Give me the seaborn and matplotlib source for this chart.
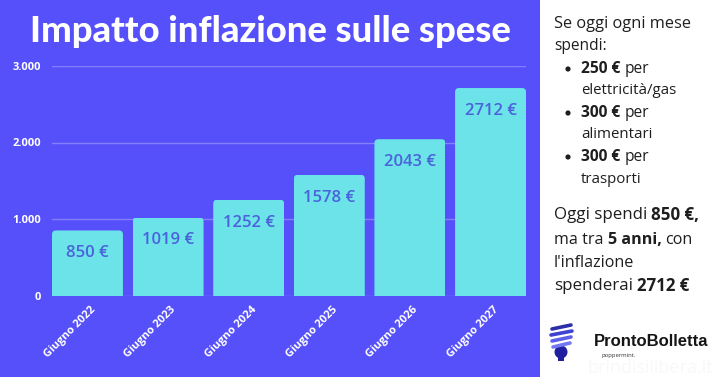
import matplotlib
matplotlib.use("Agg")
import matplotlib.pyplot as plt
from matplotlib.patches import FancyBboxPatch, Rectangle, Circle
from matplotlib.transforms import ScaledTranslation
import seaborn as sns
import pandas as pd

categories = ["Giugno 2022", "Giugno 2023", "Giugno 2024", "Giugno 2025", "Giugno 2026", "Giugno 2027"]
values = [850, 1019, 1252, 1578, 2043, 2712]
y_ticks = [0, 1000, 2000, 3000]
y_tick_labels = ["0", "1.000", "2.000", "3.000"]
title = "Impatto inflazione sulle spese"

BG = "#5650FB"
BAR = "#6BE3E8"
LABEL = "#4A63DB"
W, H = 720, 377

sns.set_theme(style="white")
plt.rcParams["font.family"] = ["Open Sans", "DejaVu Sans"]

fig = plt.figure(figsize=(7.2, 3.77), dpi=100, facecolor=BG)
ax = fig.add_axes([52 / W, 1 - 295.5 / H, (526 - 52) / W, (295.5 - 66) / H])
ax.set_facecolor("none")

df = pd.DataFrame({"mese": categories, "spesa": values})
sns.barplot(data=df, x="mese", y="spesa", color=BAR, saturation=1, width=0.88, ax=ax, zorder=3,
            linewidth=0, edgecolor="none")
ax.set_xlim(-0.44, 5.44)
ax.set_ylim(0, 3000)
ax.set_xlabel("")
ax.set_ylabel("")
sns.despine(ax=ax, left=True, bottom=True)
ax.set_yticks(y_ticks, y_tick_labels, color="white", fontsize=8, fontweight="bold")
ax.tick_params(axis="y", length=0, pad=8)
ax.tick_params(axis="x", length=0, pad=6)
ax.set_xticks(range(len(categories)), categories, rotation=45, ha="right", rotation_mode="anchor",
              color="white", fontsize=8, fontweight="bold")
shift = ScaledTranslation(2.5 / 100, 0, fig.dpi_scale_trans)
for lab in ax.get_xticklabels():
    lab.set_transform(lab.get_transform() + shift)
ax.grid(axis="y", color="#8480FC", lw=1, zorder=0)
ax.set_axisbelow(True)

fig.canvas.draw()
for bar, val in zip(ax.patches, values):
    x0, y0 = ax.transData.transform((bar.get_x(), 0))
    x1, y1 = ax.transData.transform((bar.get_x() + bar.get_width(), val))
    r = 4
    clip = FancyBboxPatch((x0 + r, y0), x1 - x0 - 2 * r, y1 - y0 - r,
                          boxstyle=f"round,pad={r}", transform=None)
    bar.set_clip_path(clip)
    ax.text(bar.get_x() + bar.get_width() / 2, val - 300, f"{val} €", ha="center", va="center",
            color=LABEL, fontsize=12, fontweight="semibold", family="Open Sans", zorder=4)

fig.text(270 / W, 1 - 32 / H, title, ha="center", va="center", color="white",
         fontsize=26.2, fontweight="black", family="Lato")

# right panel
fig.patches.append(Rectangle((540 / W, 0), 180 / W, 1, transform=fig.transFigure, fc="white", ec="none", zorder=0))
fig.patches[-1].set_figure(fig)

TXT = "#1E1E1E"
def runs(x, y, parts, fs=10.8, gap=4):
    r = fig.canvas.get_renderer()
    for s, bold in parts:
        t = fig.text(x / W, 1 - y / H, s, color=TXT, fontsize=fs, family="Open Sans", va="center",
                     fontweight="bold" if bold else "normal")
        x += t.get_window_extent(r).width + gap

runs(554, 24, [("Se oggi ogni mese", False)], fs=11.8)
runs(554, 46, [("spendi:", False)], fs=11.2)
runs(581, 69, [("250 €", True), ("per", False)], fs=11.2)
runs(581, 91, [("elettricità/gas", False)])
runs(581, 113, [("300 €", True), ("per", False)], fs=11.2)
runs(581, 135, [("alimentari", False)])
runs(581, 157, [("300 €", True), ("per", False)], fs=11.2)
runs(581, 179, [("trasporti", False)])
for yy in (69, 113, 157):
    fig.patches.append(Circle((568, H - yy), 2.6, transform=None, fc=TXT, ec="none"))
    fig.patches[-1].set_figure(fig)
runs(554, 215, [("Oggi spendi", False), ("850 €,", True)], fs=12.2)
runs(554, 240, [("ma tra", False), ("5 anni,", True), ("con", False)], fs=11.6)
runs(554, 263, [("l'inflazione", False)], fs=11.6)
runs(554, 286, [("spenderai", False), ("2712 €", True)], fs=12.2)

fig.text(594 / W, 1 - 341 / H, "ProntoBolletta", color="#151515", fontsize=12, fontweight="bold",
         family="Liberation Sans", va="center")
fig.text(602 / W, 1 - 356 / H, "poppermint.", color="#333333", fontsize=4.2, va="center")
fig.text(650 / W, 1 - 368 / H, "brindisilibera.it", color="#F8F8FA", fontsize=13, va="center", ha="center")

# bulb logo
for yy, x0, x1, c in [(327, 552, 571, "#2B2FA8"), (333, 551, 572, "#3F44D0"), (339, 552, 571, "#5C60E8"),
                      (345, 553, 570, "#7478F0")]:
    fig.add_artist(plt.Line2D([x0 / W, x1 / W], [1 - (yy + 2) / H, 1 - (yy - 2) / H], color=c, lw=2.6))
fig.patches.append(Circle((561, H - 352), 6.5, transform=None, fc="#1F1FA0", ec="none"))
fig.patches[-1].set_figure(fig)
fig.patches.append(Rectangle((558, H - 361), 6, 4, transform=None, fc="#1F1FA0", ec="none"))
fig.patches[-1].set_figure(fig)

fig.savefig("out.png", dpi=100, facecolor=BG)
